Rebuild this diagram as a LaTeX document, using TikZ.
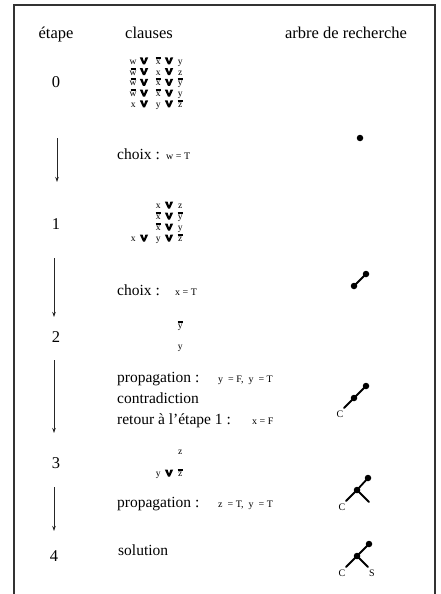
\documentclass[tikz,border=0pt]{standalone}
\usepackage{fontspec}
\setmainfont{Liberation Serif}
\usetikzlibrary{arrows.meta}

% negated literal with a thick bar
\newcommand\nb[1]{\leavevmode\hbox{\setbox0\hbox{#1}\hbox to\wd0{\hss\rule[5.6pt]{5pt}{1.9pt}\hss}\kern-\wd0\box0}}
% one clause row on a fixed grid; the "or" signs are drawn apart
\newcommand\crow[3]{\makebox[12pt]{#1}\makebox[10pt]{}\hspace{3pt}\makebox[12pt]{#2}\makebox[10pt]{}\makebox[12pt]{#3}}

\begin{document}
\begin{tikzpicture}[x=1pt,y=-1pt,
  head/.style={font=\fontsize{16.5}{18}\selectfont, anchor=base, inner sep=0pt},
  stepnum/.style={font=\fontsize{16.5}{18}\selectfont, anchor=base, inner sep=0pt},
  body/.style={font=\fontsize{15.5}{17}\selectfont, anchor=base west, inner sep=0pt},
  small/.style={font=\fontsize{10}{11}\selectfont, anchor=base west, inner sep=0pt},
  clause/.style={font=\fontsize{9.6}{10}\selectfont, anchor=base west, inner sep=0pt},
  flow/.style={line width=0.8pt, black!85, -{Stealth[length=5pt,width=3.5pt]}},
  branch/.style={line width=1.8pt, line cap=round},
  knot/.style={circle, fill, inner sep=0pt, minimum size=6.5pt},
  leaf/.style={font=\fontsize{10}{11}\selectfont, inner sep=0pt},
  orv/.pic={\fill (-4.2,-7) -- (-1.5,-7) -- (0,-2.8) -- (1.5,-7) -- (4.2,-7) -- (1,0) -- (-1,0) -- cycle;}]

\useasboundingbox (0,0) rectangle (440,594);

% open frame
\coordinate (fbl) at (14,594);
\coordinate (ftl) at (14,5);
\coordinate (ftr) at (435,5);
\coordinate (fbr) at (435,594);
\draw[line width=1.2pt, black!80] (fbl) -- (ftl) -- (ftr) -- (fbr);

% headers
\node[head] (hstep) at (56,38) {étape};
\node[head] (hcl) at (149,38) {clauses};
\node[head] (htree) at (346,38) {arbre de recherche};

% step numbers
\node[stepnum] (s0) at (56,88) {0};
\node[stepnum] (s1) at (56,229) {1};
\node[stepnum] (s2) at (56,342) {2};
\node[stepnum] (s3) at (56,468) {3};
\node[stepnum] (s4) at (54,561) {4};

% arrows between steps
\coordinate (a0s) at (57,138); \coordinate (a0e) at (57,182);
\coordinate (a1s) at (54,258); \coordinate (a1e) at (54,317);
\coordinate (a2s) at (54,360); \coordinate (a2e) at (54,433);
\coordinate (a3s) at (54,487); \coordinate (a3e) at (54,531);
\draw[flow] (a0s) -- (a0e);
\draw[flow] (a1s) -- (a1e);
\draw[flow] (a2s) -- (a2e);
\draw[flow] (a3s) -- (a3e);

% step 0 clauses
\node[clause] (c0a) at (127,64.5) {\crow{w}{\nb{x}}{y}};
\node[clause] (c0b) at (127,75.2) {\crow{\nb{w}}{x}{z}};
\node[clause] (c0c) at (127,85.9) {\crow{\nb{w}}{\nb{x}}{\nb{y}}};
\node[clause] (c0d) at (127,96.6) {\crow{\nb{w}}{\nb{x}}{y}};
\node[clause] (c0e) at (127,107.3) {\crow{x}{y}{\nb{z}}};
\foreach \r in {c0a,c0b,c0c,c0d,c0e}{
  \path (\r.base west) ++(17,0) pic {orv} ++(25,0) pic {orv};
}

\node[body] (ch0) at (117,159) {choix :};
\node[small] (ch0v) at (166,159) {w = T};

% step 1 clauses
\node[clause] (c1a) at (127,208.5) {\crow{}{x}{z}};
\node[clause] (c1b) at (127,219.5) {\crow{}{\nb{x}}{\nb{y}}};
\node[clause] (c1c) at (127,230.5) {\crow{}{\nb{x}}{y}};
\node[clause] (c1d) at (127,241.5) {\crow{x}{y}{\nb{z}}};
\foreach \r in {c1a,c1b,c1c}{
  \path (\r.base west) ++(42,0) pic {orv};
}
\path (c1d.base west) ++(17,0) pic {orv} ++(25,0) pic {orv};

\node[body] (ch1) at (117,295) {choix :};
\node[small] (ch1v) at (175,295) {x = T};

% step 2 clauses
\node[clause] (c2a) at (127,328.5) {\crow{}{}{\nb{y}}};
\node[clause] (c2b) at (127,349.5) {\crow{}{}{y}};

\node[body] (pr2) at (117,382) {propagation :};
\node[small] (pr2v) at (218,382) {y\ \ = F,\ \ y\ \ = T};
\node[body] (ctr) at (117,403) {contradiction};
\node[body] (ret) at (117,424) {retour à l'étape 1 :};
\node[small] (retv) at (252,424) {x = F};

% step 3 clauses
\node[clause] (c3a) at (127,454.5) {\crow{}{}{z}};
\node[clause] (c3b) at (127,476.5) {\crow{}{y}{\nb{z}}};
\path (c3b.base west) ++(42,0) pic {orv};

\node[body] (pr3) at (117,507) {propagation :};
\node[small] (pr3v) at (218,507) {z\ \ = T,\ \ y\ \ = T};

\node[body] (sol) at (118,555) {solution};

% search trees
\node[knot] (t0) at (360,138) {};

\node[knot] (t1a) at (366,274) {};
\node[knot] (t1b) at (354,286) {};
\draw[branch] (t1a.center) -- (t1b.center);

\node[knot] (t2a) at (366,386) {};
\node[knot] (t2b) at (354,398) {};
\coordinate (t2c) at (344,408);
\draw[branch] (t2a.center) -- (t2b.center) -- (t2c);
\node[leaf] (t2cl) at (340,414) {C};

\node[knot] (t3a) at (368,478) {};
\node[knot] (t3b) at (357,490) {};
\coordinate (t3c) at (346,501);
\coordinate (t3d) at (369,502);
\draw[branch] (t3a.center) -- (t3b.center) -- (t3c);
\draw[branch] (t3b.center) -- (t3d);
\node[leaf] (t3cl) at (342,507) {C};

\node[knot] (t4a) at (369,544) {};
\node[knot] (t4b) at (357,556) {};
\coordinate (t4c) at (346,567);
\coordinate (t4d) at (368,567);
\draw[branch] (t4a.center) -- (t4b.center) -- (t4c);
\draw[branch] (t4b.center) -- (t4d);
\node[leaf] (t4cl) at (342,573) {C};
\node[leaf] (t4sl) at (372,573) {S};
\end{tikzpicture}
\end{document}
